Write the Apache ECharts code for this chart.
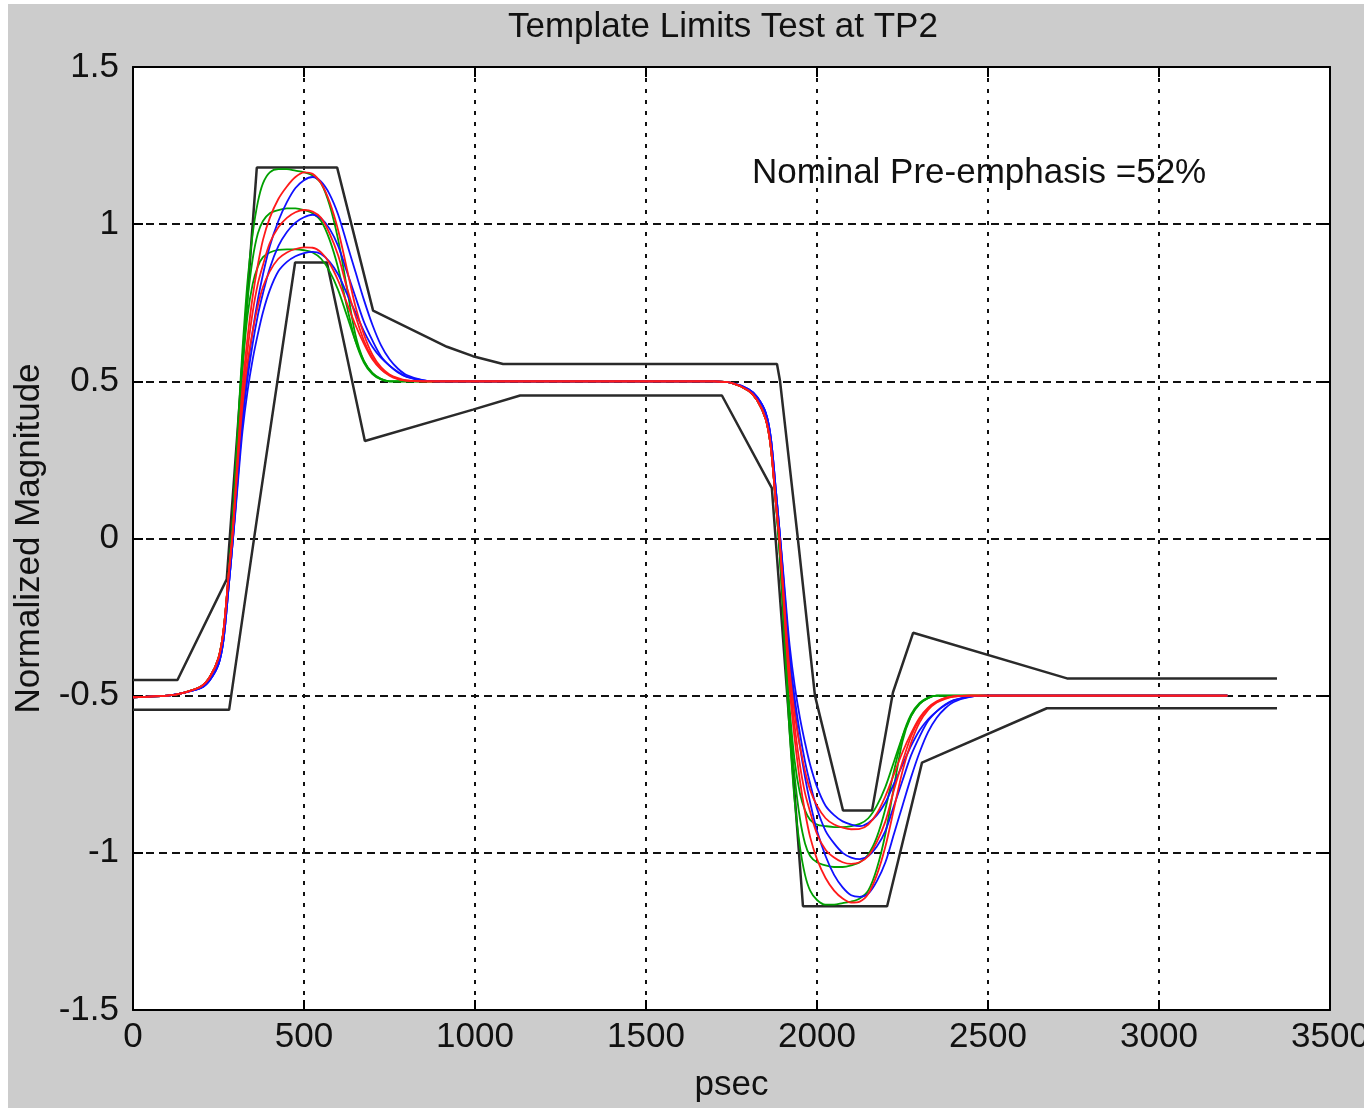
<!DOCTYPE html>
<html>
<head>
<meta charset="utf-8">
<script src="https://cdn.jsdelivr.net/npm/echarts@6/dist/echarts.min.js"></script>
<style>
html,body{margin:0;padding:0;background:#fff;}
#chart{width:1364px;height:1108px;}
</style>
</head>
<body>
<div id="chart"></div>
<script>
// ---------- data ----------
const xTicks = [0, 500, 1000, 1500, 2000, 2500, 3000, 3500];
const yTicks = [-1.5, -1, -0.5, 0, 0.5, 1, 1.5];

// time samples (psec)
const t = [0,100,150,200,225,250,265,280,290,300,310,320,335,350,365,380,400,425,450,475,500,525,550,575,
  600,625,650,675,700,725,750,775,800,850,900,1000,1400,1700,1750,1800,1825,1850,1865,1880,
  1890,1900,1910,1920,1935,1950,1965,1980,2000,2025,2050,2075,2100,2125,2150,2175,2200,2225,2250,2275,
  2300,2325,2350,2375,2400,2450,2500,2800,3200];

// rising part (t index 0..35) and falling part (t index 36..72) of each trace
const greenHighRise = [-0.505,-0.50,-0.49,-0.47,-0.44,-0.38,-0.29,-0.11,
  0.03,0.22,0.42,0.60,0.82,0.97,1.07,1.13, 1.165,1.175,1.175,1.17,1.165,1.155,1.13,1.06,
  0.95,0.80,0.65,0.565,0.525,0.507,0.50,0.50, 0.50,0.50,0.50,0.50];
const greenHighFall = [0.50,0.50, 0.495,0.47,0.44,0.38,0.29,0.11,
  -0.03,-0.22,-0.43,-0.62,-0.84,-0.98,-1.07,-1.12, -1.15,-1.165,-1.165,-1.16,-1.155,-1.145,-1.12,-1.05,
  -0.94,-0.79,-0.645,-0.565,-0.525,-0.507,-0.50,-0.50, -0.50, -0.50,-0.50,-0.50,-0.50];

const redHighRise = [-0.505,-0.50,-0.49,-0.47,-0.44,-0.38,-0.29,-0.11,
  0.0,0.16,0.33,0.48,0.64,0.77,0.87,0.95, 1.02,1.08,1.12,1.15,1.165,1.16,1.13,1.07,
  0.98,0.86,0.74,0.65,0.585,0.545,0.522,0.51, 0.503,0.50,0.50,0.50];
const redHighFall = [0.50,0.50, 0.495,0.47,0.44,0.38,0.29,0.11,
  0.0,-0.16,-0.33,-0.48,-0.64,-0.77,-0.87,-0.95, -1.02,-1.08,-1.12,-1.145,-1.158,-1.155,-1.13,-1.07,
  -0.98,-0.86,-0.74,-0.65,-0.585,-0.545,-0.522,-0.51, -0.503, -0.50,-0.50,-0.50,-0.50];

const blueHighRise = [-0.505,-0.50,-0.49,-0.475,-0.45,-0.40,-0.32,-0.15,
  -0.03,0.11,0.26,0.39,0.54,0.66,0.76,0.84, 0.93,1.01,1.07,1.115,1.14,1.15,1.135,1.095,
  1.03,0.94,0.85,0.76,0.68,0.615,0.57,0.54, 0.52,0.503,0.50,0.50];
const blueHighFall = [0.50,0.50, 0.495,0.475,0.45,0.40,0.32,0.15,
  0.03,-0.11,-0.26,-0.39,-0.54,-0.66,-0.76,-0.84, -0.93,-1.01,-1.07,-1.11,-1.135,-1.14,-1.13,-1.09,
  -1.03,-0.94,-0.85,-0.76,-0.68,-0.615,-0.57,-0.54, -0.52, -0.503,-0.50,-0.50,-0.50];

const greenMidRise = [-0.505,-0.50,-0.49,-0.47,-0.44,-0.38,-0.29,-0.11,
  0.03,0.21,0.40,0.57,0.76,0.89,0.97,1.01, 1.035,1.045,1.05,1.05,1.045,1.035,1.01,0.95,
  0.86,0.74,0.63,0.56,0.523,0.506,0.50,0.50, 0.50,0.50,0.50,0.50];
const greenMidFall = [0.50,0.50, 0.495,0.47,0.44,0.38,0.29,0.11,
  -0.03,-0.21,-0.40,-0.57,-0.76,-0.89,-0.97,-1.01, -1.03,-1.04,-1.045,-1.045,-1.04,-1.03,-1.005,-0.95,
  -0.86,-0.74,-0.63,-0.56,-0.523,-0.506,-0.50,-0.50, -0.50, -0.50,-0.50,-0.50,-0.50];

const redMidRise = [-0.505,-0.50,-0.49,-0.47,-0.44,-0.38,-0.29,-0.11,
  0.0,0.15,0.31,0.45,0.60,0.72,0.81,0.87, 0.94,0.99,1.02,1.038,1.045,1.04,1.02,0.97,
  0.90,0.80,0.71,0.63,0.575,0.54,0.52,0.508, 0.502,0.50,0.50,0.50];
const redMidFall = [0.50,0.50, 0.495,0.47,0.44,0.38,0.29,0.11,
  0.0,-0.15,-0.31,-0.45,-0.60,-0.72,-0.81,-0.87, -0.94,-0.99,-1.015,-1.03,-1.035,-1.03,-1.01,-0.965,
  -0.90,-0.80,-0.71,-0.63,-0.575,-0.54,-0.52,-0.508, -0.502, -0.50,-0.50,-0.50,-0.50];

const blueMidRise = [-0.505,-0.50,-0.49,-0.475,-0.45,-0.40,-0.32,-0.15,
  -0.03,0.10,0.24,0.37,0.51,0.62,0.71,0.78, 0.86,0.93,0.975,1.005,1.022,1.03,1.018,0.985,
  0.93,0.85,0.77,0.69,0.63,0.58,0.55,0.528, 0.514,0.502,0.50,0.50];
const blueMidFall = [0.50,0.50, 0.495,0.475,0.45,0.40,0.32,0.15,
  0.03,-0.10,-0.24,-0.37,-0.51,-0.62,-0.71,-0.78, -0.86,-0.93,-0.97,-1.0,-1.015,-1.02,-1.01,-0.98,
  -0.93,-0.85,-0.77,-0.69,-0.63,-0.58,-0.55,-0.528, -0.514, -0.502,-0.50,-0.50,-0.50];

const greenLowRise = [-0.505,-0.50,-0.49,-0.47,-0.44,-0.38,-0.29,-0.11,
  0.03,0.20,0.38,0.54,0.71,0.81,0.865,0.895, 0.91,0.918,0.92,0.92,0.917,0.91,0.89,0.85,
  0.79,0.71,0.63,0.565,0.527,0.508,0.50,0.50, 0.50,0.50,0.50,0.50];
const greenLowFall = [0.50,0.50, 0.495,0.47,0.44,0.38,0.29,0.11,
  -0.03,-0.20,-0.38,-0.54,-0.71,-0.81,-0.865,-0.895, -0.91,-0.915,-0.918,-0.918,-0.915,-0.908,-0.89,-0.85,
  -0.79,-0.71,-0.63,-0.565,-0.527,-0.508,-0.50,-0.50, -0.50, -0.50,-0.50,-0.50,-0.50];

const redLowRise = [-0.505,-0.50,-0.49,-0.47,-0.44,-0.38,-0.29,-0.11,
  0.0,0.14,0.29,0.42,0.56,0.66,0.74,0.80, 0.85,0.89,0.91,0.921,0.926,0.925,0.91,0.875,
  0.82,0.75,0.68,0.62,0.57,0.538,0.518,0.507, 0.502,0.50,0.50,0.50];
const redLowFall = [0.50,0.50, 0.495,0.47,0.44,0.38,0.29,0.11,
  0.0,-0.14,-0.29,-0.42,-0.56,-0.66,-0.74,-0.80, -0.85,-0.89,-0.91,-0.92,-0.925,-0.924,-0.91,-0.875,
  -0.82,-0.75,-0.68,-0.62,-0.57,-0.538,-0.518,-0.507, -0.502, -0.50,-0.50,-0.50,-0.50];

const blueLowRise = [-0.505,-0.50,-0.49,-0.475,-0.45,-0.40,-0.32,-0.15,
  -0.03,0.09,0.22,0.34,0.47,0.57,0.65,0.72, 0.79,0.85,0.88,0.898,0.908,0.912,0.905,0.88,
  0.84,0.78,0.72,0.66,0.61,0.575,0.55,0.53, 0.515,0.503,0.50,0.50];
const blueLowFall = [0.50,0.50, 0.495,0.475,0.45,0.40,0.32,0.15,
  0.03,-0.09,-0.22,-0.34,-0.47,-0.57,-0.65,-0.72, -0.79,-0.85,-0.88,-0.90,-0.91,-0.915,-0.905,-0.88,
  -0.84,-0.78,-0.72,-0.66,-0.61,-0.575,-0.55,-0.53, -0.515, -0.503,-0.50,-0.50,-0.50];

// template limits
const upperMaskX = [0,130,274,362,597,702,918,994,1082,1883,1892,1944,1994,2076,2161,2222,2281,2731,3345];
const upperMaskY = [-0.45,-0.45,-0.13,1.18,1.18,0.725,0.61,0.58,0.555,0.555,0.50,0.0,-0.50,-0.865,-0.865,-0.49,-0.30,-0.445,-0.445];
const lowerMaskX = [0,281,362,474,567,678,994,1132,1722,1868,1959,2205,2307,2672,3345];
const lowerMaskY = [-0.545,-0.545,0.06,0.878,0.878,0.31,0.41,0.455,0.455,0.16,-1.17,-1.17,-0.713,-0.54,-0.54];

const titleText = 'Template Limits Test at TP2';
const noteText = 'Nominal Pre-emphasis =52%';

// ---------- chart ----------
const FONT = '"Liberation Sans", Arial, sans-serif';
const chart = echarts.init(document.getElementById('chart'), null, {renderer: 'canvas'});

function pairs(xs, ys) { return xs.map((x, i) => [x, ys[i]]); }

const traces = [
  {name: 'greenHigh', color: '#00a000', y: greenHighRise.concat(greenHighFall)},
  {name: 'greenMid',  color: '#00a000', y: greenMidRise.concat(greenMidFall)},
  {name: 'greenLow',  color: '#00a000', y: greenLowRise.concat(greenLowFall)},
  {name: 'blueHigh',  color: '#1010ff', y: blueHighRise.concat(blueHighFall)},
  {name: 'blueMid',   color: '#1010ff', y: blueMidRise.concat(blueMidFall)},
  {name: 'blueLow',   color: '#1010ff', y: blueLowRise.concat(blueLowFall)},
  {name: 'redHigh',   color: '#ff1a1a', y: redHighRise.concat(redHighFall)},
  {name: 'redMid',    color: '#ff1a1a', y: redMidRise.concat(redMidFall)},
  {name: 'redLow',    color: '#ff1a1a', y: redLowRise.concat(redLowFall)}
];

const series = [
  {type: 'line', name: 'upper', data: pairs(upperMaskX, upperMaskY), showSymbol: false,
   lineStyle: {color: '#2a2a2a', width: 2.5}, z: 2},
  {type: 'line', name: 'lower', data: pairs(lowerMaskX, lowerMaskY), showSymbol: false,
   lineStyle: {color: '#2a2a2a', width: 2.5}, z: 2}
].concat(traces.map(tr => ({
  type: 'line', name: tr.name, data: pairs(t, tr.y), showSymbol: false, smooth: 0.3,
  lineStyle: {color: tr.color, width: 1.8}, z: 3
})));

const axisLineStyle = {color: '#000', width: 2};
const labelStyle = {fontSize: 35, color: '#111', fontFamily: FONT};

chart.setOption({
  animation: false,
  backgroundColor: '#cccccc',
  title: {
    text: titleText, left: 503, top: 5,
    textStyle: {fontSize: 35, fontWeight: 'normal', color: '#111', fontFamily: FONT}
  },
  grid: {left: 133, right: 34, top: 67, bottom: 98, show: true, backgroundColor: '#ffffff', borderWidth: 0,
         containLabel: false, outerBoundsMode: 'none'},
  xAxis: [
    {type: 'value', min: xTicks[0], max: xTicks[xTicks.length - 1], interval: 500, position: 'bottom',
     axisLine: {show: true, onZero: false, lineStyle: axisLineStyle},
     axisTick: {show: true, inside: true, length: 10, lineStyle: axisLineStyle},
     axisLabel: Object.assign({margin: 10, formatter: v => String(v)}, labelStyle),
     splitLine: {show: true, lineStyle: {color: '#111', width: 2, type: [4, 7]}},
     name: 'psec', nameLocation: 'middle', nameGap: 58,
     nameTextStyle: {fontSize: 35, color: '#111', fontFamily: FONT}},
    {type: 'value', min: xTicks[0], max: xTicks[xTicks.length - 1], interval: 500, position: 'top',
     axisLine: {show: true, onZero: false, lineStyle: axisLineStyle},
     axisTick: {show: true, inside: true, length: 10, lineStyle: axisLineStyle},
     axisLabel: {show: false}, splitLine: {show: false}}
  ],
  yAxis: [
    {type: 'value', min: yTicks[0], max: yTicks[yTicks.length - 1], interval: 0.5, position: 'left',
     axisLine: {show: true, onZero: false, lineStyle: axisLineStyle},
     axisTick: {show: true, inside: true, length: 10, lineStyle: axisLineStyle},
     axisLabel: Object.assign({margin: 14, formatter: v => String(v)}, labelStyle),
     splitLine: {show: true, lineStyle: {color: '#111', width: 2, type: [8, 5]}},
     name: 'Normalized Magnitude', nameLocation: 'middle', nameGap: 86,
     nameTextStyle: {fontSize: 35, color: '#111', fontFamily: FONT}},
    {type: 'value', min: yTicks[0], max: yTicks[yTicks.length - 1], interval: 0.5, position: 'right',
     axisLine: {show: true, onZero: false, lineStyle: axisLineStyle},
     axisTick: {show: true, inside: true, length: 10, lineStyle: axisLineStyle},
     axisLabel: {show: false}, splitLine: {show: false}}
  ],
  graphic: [
    {type: 'rect', left: 0, top: 0, shape: {width: 8, height: 1108}, style: {fill: '#ffffff'}, z: 100},
    {type: 'rect', left: 0, top: 0, shape: {width: 1364, height: 4}, style: {fill: '#ffffff'}, z: 100},
    {type: 'text', left: 752, top: 156, z: 100,
     style: {text: noteText, font: '35px ' + FONT, fill: '#111'}}
  ],
  series: series
});
</script>
</body>
</html>
